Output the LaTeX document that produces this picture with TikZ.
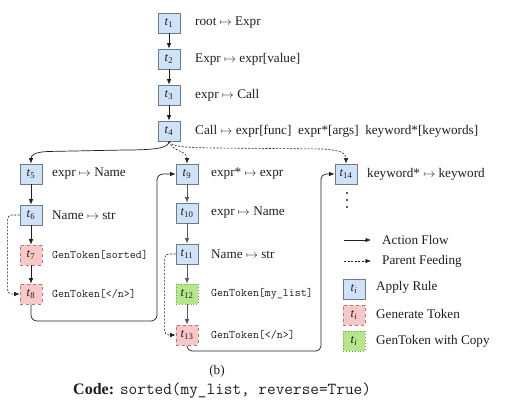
\documentclass[tikz,border=0pt]{standalone}
\usepackage{fontspec}
\setmainfont{Liberation Serif}
\usetikzlibrary{arrows.meta}
\definecolor{blueF}{HTML}{CFE2F7}
\definecolor{blueD}{HTML}{6B7B8C}
\definecolor{pinkF}{HTML}{F8C8C8}
\definecolor{pinkD}{HTML}{B07878}
\definecolor{greenF}{HTML}{B5E68A}
\definecolor{greenD}{HTML}{6E9E48}
\definecolor{ink}{HTML}{1E1E1E}
\newcommand{\tlab}[1]{\textit{t}\textsubscript{#1}}
\tikzset{
  tbox/.style={minimum width=22pt, minimum height=20pt, inner sep=0pt, font=\fontsize{12.5}{14}\selectfont, text=ink},
  apply/.style={tbox, fill=blueF, draw=blueD, line width=0.8pt},
  gentok/.style={tbox, fill=pinkF, draw=pinkD, dashed, line width=0.7pt},
  copytok/.style={tbox, fill=greenF, draw=greenD, dotted, line width=0.9pt},
  rule/.style={anchor=west, inner sep=0pt, font=\fontsize{13.2}{15}\selectfont, text=ink},
  tok/.style={anchor=west, inner sep=0pt, font=\fontsize{11.6}{13}\selectfont\ttfamily, text=ink},
  flow/.style={draw=ink, line width=0.7pt, -{Latex[length=5.5pt,width=4.5pt]}},
  gflow/.style={flow, draw=black!65},
  feed/.style={draw=ink, line width=0.6pt, dashed, dash pattern=on 2pt off 1.5pt, -{Latex[length=5.5pt,width=4.5pt]}},
}
\begin{document}
\begin{tikzpicture}[x=1pt,y=1pt]
\useasboundingbox (0,0) rectangle (507,-411);
% column 1
\node[apply] (t1) at (169,-23) {\tlab{1}};
\node[apply] (t2) at (169,-59) {\tlab{2}};
\node[apply] (t3) at (169,-95) {\tlab{3}};
\node[apply] (t4) at (169,-131) {\tlab{4}};
\node[rule] (r1) at (195,-23) {root $\mapsto$ Expr};
\node[rule] (r2) at (195,-59) {Expr $\mapsto$ expr[value]};
\node[rule] (r3) at (195,-95) {expr $\mapsto$ Call};
\node[rule] (r4) at (195,-131) {Call $\mapsto$ expr[func]\ \ expr*[args]\ \ keyword*[keywords]};
% column 2
\node[apply] (t5) at (31,-174) {\tlab{5}};
\node[apply] (t6) at (31,-215) {\tlab{6}};
\node[gentok] (t7) at (31,-255) {\tlab{7}};
\node[gentok] (t8) at (31,-294) {\tlab{8}};
\node[rule] (r5) at (52,-174) {expr $\mapsto$ Name};
\node[rule] (r6) at (52,-215) {Name $\mapsto$ str};
\node[tok] (r7) at (52,-255) {GenToken[sorted]};
\node[tok] (r8) at (52,-294) {GenToken[</n>]};
% column 3
\node[apply] (t9) at (187,-174) {\tlab{9}};
\node[apply] (t10) at (187,-213) {\tlab{10}};
\node[apply] (t11) at (187,-254) {\tlab{11}};
\node[copytok] (t12) at (187,-294) {\tlab{12}};
\node[gentok] (t13) at (187,-335) {\tlab{13}};
\node[rule] (r9) at (211,-174) {expr* $\mapsto$ expr};
\node[rule] (r10) at (211,-213) {expr $\mapsto$ Name};
\node[rule] (r11) at (211,-254) {Name $\mapsto$ str};
\node[tok] (r12) at (211,-294) {GenToken[my\_list]};
\node[tok] (r13) at (211,-335) {GenToken[</n>]};
% column 4
\node[apply] (t14) at (346,-174) {\tlab{14}};
\node[rule] (r14) at (367,-174) {keyword* $\mapsto$ keyword};
\foreach \yy in {193,200,207} \fill[ink] (347,-\yy) circle (1.1pt);
% vertical flow
\draw[flow] (t1) -- (t2);
\draw[flow] (t2) -- (t3);
\draw[flow] (t3) -- (t4);
\draw[flow] (t5) -- (t6);
\draw[flow] (t6) -- (t7);
\draw[flow] (t7) -- (t8);
\draw[gflow] (t9) -- (t10);
\draw[gflow] (t10) -- (t11);
\draw[gflow] (t11) -- (t12);
\draw[gflow] (t12) -- (t13);
% branches from t4
\draw[flow] (t4.south) .. controls (169,-148) and (155,-150) .. (125,-150) -- (48,-151.5) .. controls (35,-152) and (31,-155) .. (t5.north);
\draw[feed] (t4.south) .. controls (172,-152) and (187,-150) .. (t9.north);
\draw[feed] (t4.south) .. controls (172,-147) and (185,-147.5) .. (215,-148) -- (322,-149) .. controls (340,-150) and (346,-153) .. (t14.north);
% parent feeding
\draw[feed, rounded corners=4pt] (t6.west) -- ++(-12,0) |- (t8.west);
\draw[feed, rounded corners=4pt] (t11.west) -- ++(-11,0) |- (t13.west);
% cross flows
\coordinate (c1) at (157,-321);
\draw[flow, rounded corners=6pt] (t8.south) |- (c1) |- (t9.west);
\coordinate (c2) at (321,-351);
\draw[flow, rounded corners=5pt] (t13.south) |- (c2) |- (t14.west);
% legend
\coordinate (la1) at (344,-240);
\coordinate (la2) at (371,-240);
\coordinate (lb1) at (344,-261);
\coordinate (lb2) at (371,-261);
\draw[flow] (la1) -- (la2);
\draw[feed] (lb1) -- (lb2);
\node[rule] (lta) at (382,-240) {Action Flow};
\node[rule] (ltb) at (382,-261) {Parent Feeding};
\node[apply] (lg1) at (354,-289) {\tlab{\textit{i}}};
\node[gentok] (lg2) at (354,-315) {\tlab{\textit{i}}};
\node[copytok] (lg3) at (354,-341) {\tlab{\textit{i}}};
\node[rule] (lt1) at (376,-287) {Apply Rule};
\node[rule] (lt2) at (376,-314) {Generate Token};
\node[rule] (lt3) at (376,-341) {GenToken with Copy};
% caption
\node[inner sep=0pt, font=\fontsize{13.2}{15}\selectfont, text=ink] (cap) at (217,-371) {(b)};
\node[anchor=west, inner sep=0pt, text=ink] (code) at (73,-391) {{\fontsize{16}{18}\selectfont\bfseries Code:}\hspace{6pt}{\fontsize{16.8}{19}\selectfont\ttfamily sorted(my\_list, reverse=True)}};
\end{tikzpicture}
\end{document}
